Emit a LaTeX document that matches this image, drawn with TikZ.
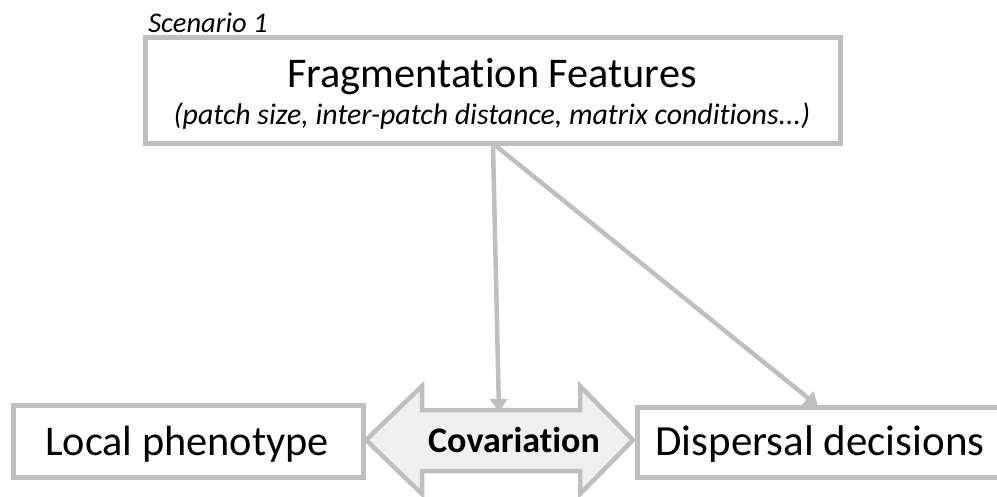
\documentclass[tikz,border=0pt]{standalone}
\usepackage{fontspec}
\setmainfont[Ligatures=NoCommon]{Carlito}
\usetikzlibrary{arrows.meta}
\definecolor{edge}{HTML}{BFBFBF}
\definecolor{fillg}{HTML}{F0F0F0}
\begin{document}
\begin{tikzpicture}[x=1pt,y=-1pt,
  boxline/.style={draw=edge,line width=5pt,fill=white},
  txt/.style={anchor=base,inner sep=0pt,text=black},
  conn/.style={draw=edge,line width=4.5pt,-{Triangle[width=17pt,length=13pt]}}]
\useasboundingbox (0,0) rectangle (997,496);
\clip (0,0) rectangle (997,496);
% boxes
\draw[boxline] (145,37) rectangle (840,143);
\draw[boxline] (13,405) rectangle (363,477);
\draw[boxline] (637,407) rectangle (1010,477);
% double arrow
\draw[draw=edge,line width=4.5pt,fill=fillg,line join=miter]
  (366,440) -- (422,386) -- (422,410) -- (580,410) -- (580,386) -- (633,440)
  -- (580,494) -- (580,471) -- (422,471) -- (422,494) -- cycle;
% texts
\node[txt,font=\itshape\fontsize{28.5}{30}\selectfont] (scen) at (208,32) {Scenario 1};
\node[txt,font=\fontsize{42.3}{46}\selectfont] (title) at (492,87) {Fragmentation Features};
\node[txt,font=\itshape\fontsize{29.8}{32}\selectfont] (sub) at (492,124) {(patch size, inter-patch distance, matrix conditions...)};
\node[txt,font=\fontsize{42.3}{46}\selectfont] (local) at (187,455) {Local phenotype};
\node[txt,font=\fontsize{43}{46}\selectfont] (disp) at (820,455) {Dispersal decisions};
\node[txt,font=\bfseries\fontsize{36}{40}\selectfont] (cov) at (514,452) {Covariation};
% connectors
\coordinate (s1) at (493,146);
\coordinate (s2) at (496,146);
\coordinate (e1) at (499,412);
\coordinate (e2) at (818,406);
\draw[conn] (s1) -- (e1);
\draw[conn] (s2) -- (e2);
\end{tikzpicture}
\end{document}
